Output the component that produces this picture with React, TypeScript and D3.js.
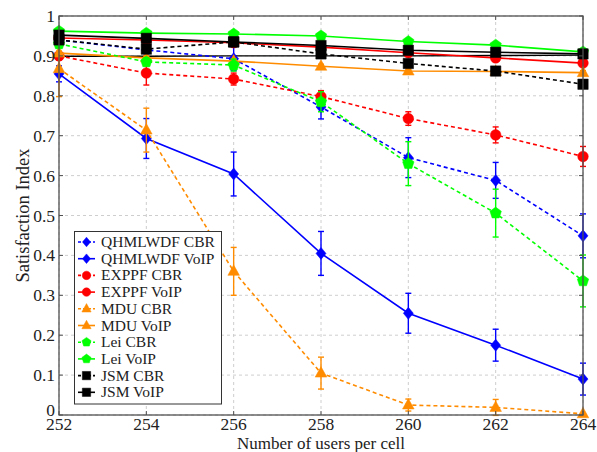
import React from 'react';
import * as d3 from 'd3';

const users = [252, 254, 256, 258, 260, 262, 264];
const xTicks = [252, 254, 256, 258, 260, 262, 264];
const yTicks = [0, 0.1, 0.2, 0.3, 0.4, 0.5, 0.6, 0.7, 0.8, 0.9, 1];
const yTickLabels = ['0', '0.1', '0.2', '0.3', '0.4', '0.5', '0.6', '0.7', '0.8', '0.9', '1'];

const qhmlwdfCbr = [0.94, 0.915, 0.893, 0.772, 0.645, 0.588, 0.449];
const qhmlwdfCbrErr = [0.01, 0.01, 0.03, 0.03, 0.05, 0.045, 0.055];
const qhmlwdfVoip = [0.855, 0.693, 0.604, 0.405, 0.255, 0.175, 0.09];
const qhmlwdfVoipErr = [0.02, 0.05, 0.055, 0.055, 0.05, 0.04, 0.04];
const exppfCbr = [0.9, 0.857, 0.842, 0.798, 0.743, 0.702, 0.648];
const exppfCbrErr = [0.01, 0.03, 0.015, 0.015, 0.017, 0.02, 0.025];
const exppfVoip = [0.945, 0.94, 0.933, 0.922, 0.908, 0.895, 0.882];
const exppfVoipErr = [0.005, 0.005, 0.005, 0.005, 0.005, 0.005, 0.005];
const mduCbr = [0.868, 0.714, 0.36, 0.105, 0.025, 0.019, 0.003];
const mduCbrErr = [0.07, 0.055, 0.06, 0.04, 0.015, 0.02, 0];
const mduVoip = [0.907, 0.895, 0.887, 0.874, 0.862, 0.861, 0.858];
const mduVoipErr = [0.005, 0.005, 0.005, 0.005, 0.005, 0.005, 0.005];
const leiCbr = [0.93, 0.885, 0.877, 0.785, 0.63, 0.506, 0.336];
const leiCbrErr = [0.01, 0.01, 0.015, 0.025, 0.055, 0.06, 0.065];
const leiVoip = [0.962, 0.957, 0.955, 0.95, 0.936, 0.927, 0.91];
const leiVoipErr = [0.005, 0.005, 0.005, 0.005, 0.005, 0.005, 0.005];
const jsmCbr = [0.94, 0.917, 0.935, 0.905, 0.881, 0.862, 0.829];
const jsmCbrErr = [0.005, 0.005, 0.005, 0.005, 0.005, 0.008, 0.008];
const jsmVoip = [0.952, 0.944, 0.935, 0.926, 0.914, 0.909, 0.905];
const jsmVoipErr = [0.005, 0.005, 0.005, 0.005, 0.005, 0.005, 0.005];
const jsmVoipBase = [0.899, 0.899, 0.9, 0.9, 0.9, 0.901, 0.902];

const seriesNames = [
  'QHMLWDF CBR', 'QHMLWDF VoIP', 'EXPPF CBR', 'EXPPF VoIP', 'MDU CBR',
  'MDU VoIP', 'Lei CBR', 'Lei VoIP', 'JSM CBR', 'JSM VoIP',
];

type Shape = 'diamond' | 'circle' | 'triangle' | 'pentagon' | 'square';
const series: { name: string; values: number[]; err: number[]; color: string; dashed: boolean; shape: Shape }[] = [
  { name: seriesNames[0], values: qhmlwdfCbr, err: qhmlwdfCbrErr, color: '#0000ff', dashed: true, shape: 'diamond' },
  { name: seriesNames[1], values: qhmlwdfVoip, err: qhmlwdfVoipErr, color: '#0000ff', dashed: false, shape: 'diamond' },
  { name: seriesNames[2], values: exppfCbr, err: exppfCbrErr, color: '#ff0000', dashed: true, shape: 'circle' },
  { name: seriesNames[3], values: exppfVoip, err: exppfVoipErr, color: '#ff0000', dashed: false, shape: 'circle' },
  { name: seriesNames[4], values: mduCbr, err: mduCbrErr, color: '#ff8c00', dashed: true, shape: 'triangle' },
  { name: seriesNames[5], values: mduVoip, err: mduVoipErr, color: '#ff8c00', dashed: false, shape: 'triangle' },
  { name: seriesNames[6], values: leiCbr, err: leiCbrErr, color: '#00ff00', dashed: true, shape: 'pentagon' },
  { name: seriesNames[7], values: leiVoip, err: leiVoipErr, color: '#00ff00', dashed: false, shape: 'pentagon' },
  { name: seriesNames[8], values: jsmCbr, err: jsmCbrErr, color: '#000000', dashed: true, shape: 'square' },
  { name: seriesNames[9], values: jsmVoip, err: jsmVoipErr, color: '#000000', dashed: false, shape: 'square' },
];

const W = 597, H = 452;
const M = { left: 59, right: 583, top: 16, bottom: 415 };
const FONT = "'Liberation Serif', 'DejaVu Serif', serif";

function markerPath(shape: Shape, s: number): string {
  switch (shape) {
    case 'diamond':
      return `M0,${-6 * s}L${5 * s},0L0,${6 * s}L${-5 * s},0Z`;
    case 'circle': {
      const r = 5.3 * s;
      return `M${r},0A${r},${r} 0 1,1 ${-r},0A${r},${r} 0 1,1 ${r},0Z`;
    }
    case 'triangle':
      return `M0,${-6.5 * s}L${5.8 * s},${4 * s}L${-5.8 * s},${4 * s}Z`;
    case 'square':
      return `M${-5.2 * s},${-5.2 * s}H${5.2 * s}V${5.2 * s}H${-5.2 * s}Z`;
    case 'pentagon': {
      const r = 6 * s;
      const pts = d3.range(5).map((i) => {
        const a = -Math.PI / 2 + (i * 2 * Math.PI) / 5;
        return [r * Math.cos(a), r * Math.sin(a)];
      });
      return 'M' + pts.map((p) => p.join(',')).join('L') + 'Z';
    }
  }
}

export default function App() {
  const x = d3.scaleLinear().domain([252, 264]).range([M.left, M.right]);
  const y = d3.scaleLinear().domain([0, 1]).range([M.bottom, M.top]);
  const line = d3.line<number>().x((_, i) => x(users[i])).y((d) => y(d));

  const legendX = 74.5, legendY = 231.5, legendW = 147, legendH = 172.5;
  const rowH = 16.7;
  const textStyle = { fontFamily: FONT };

  return (
    <svg width={W} height={H} style={{ position: 'absolute', left: 0, top: 0, background: '#fff' }}
      xmlns="http://www.w3.org/2000/svg">
      <rect x={0} y={0} width={W} height={H} fill="#fff" />
      <g stroke="#c8c8c8" strokeWidth={0.9} strokeDasharray="3,3">
        {xTicks.map((t) => (
          <line key={'gx' + t} x1={x(t)} x2={x(t)} y1={M.top} y2={M.bottom} />
        ))}
        {yTicks.map((t) => (
          <line key={'gy' + t} x1={M.left} x2={M.right} y1={y(t)} y2={y(t)} />
        ))}
      </g>
      <path d={line(jsmVoipBase) || ''} fill="none" stroke="#000" strokeWidth={1.4} />
      {series.map((s) => (
        <g key={s.name}>
          <path d={line(s.values) || ''} fill="none" stroke={s.color} strokeWidth={1.6}
            strokeDasharray={s.dashed ? '4,3' : undefined} />
          {s.values.map((v, i) => {
            const e = s.err[i];
            if (!e) return null;
            const cx = x(users[i]);
            return (
              <g key={i} stroke={s.color} strokeWidth={1.4}>
                <line x1={cx} x2={cx} y1={y(v + e)} y2={y(v - e)} />
                <line x1={cx - 3} x2={cx + 3} y1={y(v + e)} y2={y(v + e)} />
                <line x1={cx - 3} x2={cx + 3} y1={y(v - e)} y2={y(v - e)} />
              </g>
            );
          })}
          {s.values.map((v, i) => (
            <path key={'m' + i} d={markerPath(s.shape, 1)}
              transform={`translate(${x(users[i])},${y(v)})`} fill={s.color} stroke={s.color} strokeWidth={0.5} />
          ))}
        </g>
      ))}
      <rect x={M.left} y={M.top} width={M.right - M.left} height={M.bottom - M.top}
        fill="none" stroke="#505050" strokeWidth={1.3} />
      <g stroke="#505050" strokeWidth={1}>
        {xTicks.map((t) => (
          <g key={'tx' + t}>
            <line x1={x(t)} x2={x(t)} y1={M.bottom} y2={M.bottom - 4} />
            <line x1={x(t)} x2={x(t)} y1={M.top} y2={M.top + 4} />
          </g>
        ))}
        {yTicks.map((t) => (
          <g key={'ty' + t}>
            <line x1={M.left} x2={M.left + 4} y1={y(t)} y2={y(t)} />
            <line x1={M.right} x2={M.right - 4} y1={y(t)} y2={y(t)} />
          </g>
        ))}
      </g>
      <g style={textStyle} fontSize={17.5} fill="#222">
        {xTicks.map((t) => (
          <text key={'lx' + t} x={x(t)} y={430} textAnchor="middle" style={textStyle}>{t}</text>
        ))}
        {yTicks.map((t, i) => (
          <text key={'ly' + t} x={55} y={t === 0 ? y(t) + 1 : y(t) + 6} textAnchor="end" style={textStyle}>{yTickLabels[i]}</text>
        ))}
      </g>
      <text x={(M.left + M.right) / 2} y={448.5} textAnchor="middle" style={textStyle} fontSize={17} fill="#222">
        Number of users per cell
      </text>
      <text transform={`translate(29,${(M.top + M.bottom) / 2}) rotate(-90)`} textAnchor="middle"
        style={textStyle} fontSize={18.5} fill="#222">
        Satisfaction Index
      </text>
      <rect x={legendX} y={legendY} width={legendW} height={legendH} fill="#fff" stroke="#333" strokeWidth={1} />
      {series.map((s, i) => {
        const cy = legendY + 10.5 + i * rowH;
        return (
          <g key={'lg' + s.name}>
            <line x1={78} x2={95} y1={cy} y2={cy} stroke={s.color} strokeWidth={1.6}
              strokeDasharray={s.dashed ? '3,2' : undefined} />
            <path d={markerPath(s.shape, 0.8)} transform={`translate(86.5,${cy})`} fill={s.color} stroke={s.color} strokeWidth={0.5} />
            <text x={101} y={cy + 5} style={textStyle} fontSize={15.5} fill="#222">{s.name}</text>
          </g>
        );
      })}
    </svg>
  );
}
